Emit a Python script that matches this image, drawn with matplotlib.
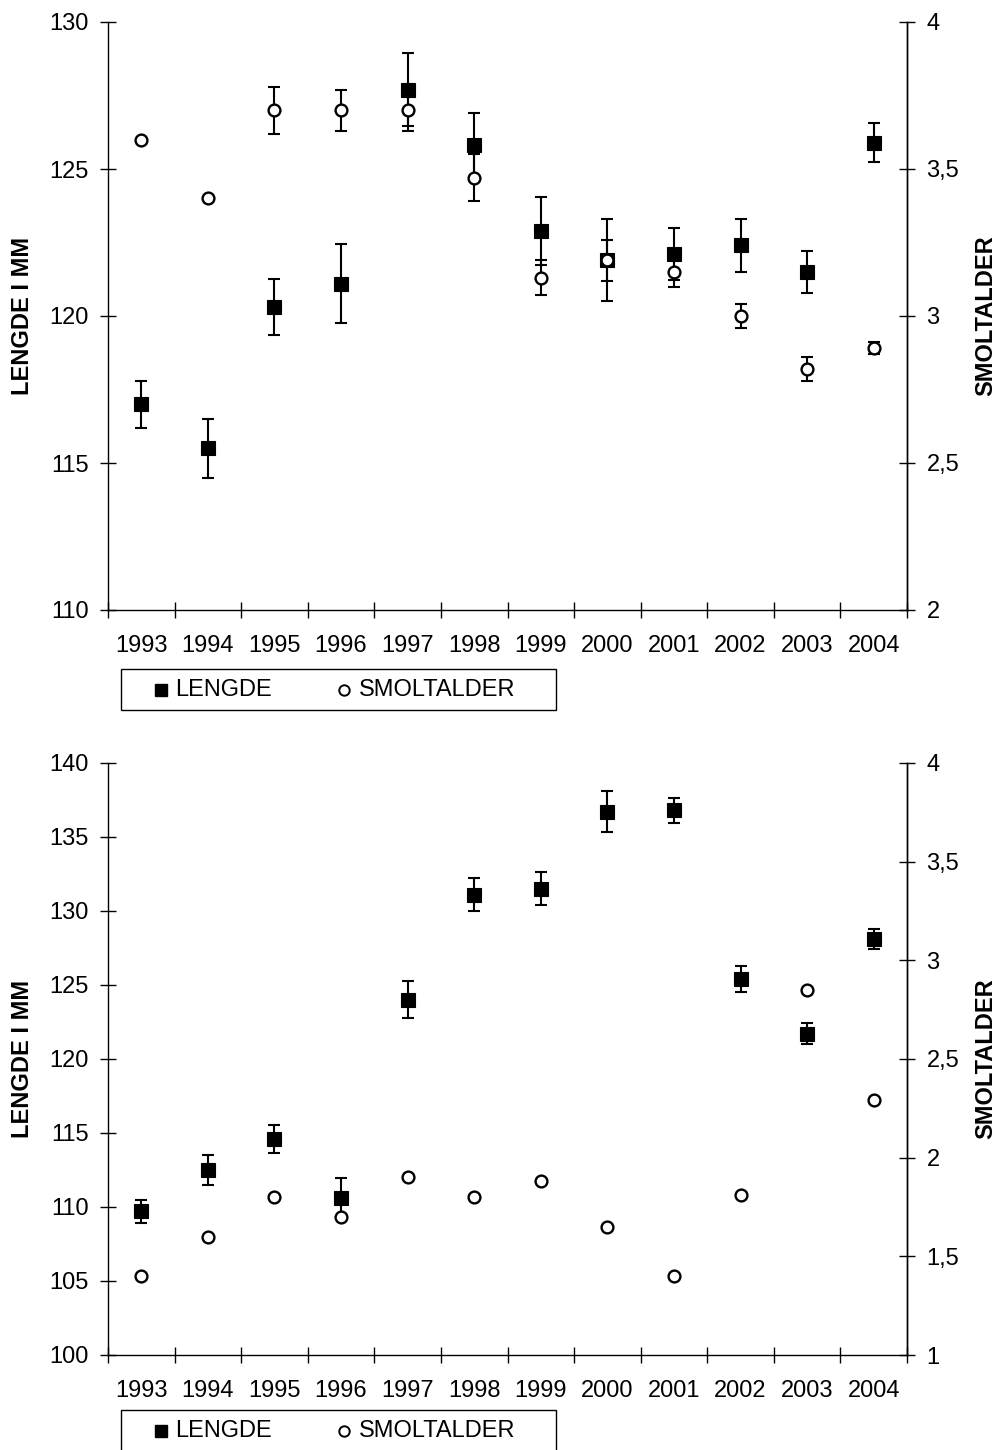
import matplotlib.pyplot as plt
from matplotlib.lines import Line2D
from matplotlib.patches import Rectangle
import numpy as np

plt.rcParams["font.family"] = ["Liberation Sans", "DejaVu Sans"]

YEARS = ["1993", "1994", "1995", "1996", "1997", "1998",
         "1999", "2000", "2001", "2002", "2003", "2004"]

# upper panel
LENGDE_1 = [117.0, 115.5, 120.3, 121.1, 127.7, 125.8, 122.9, 121.9, 122.1, 122.4, 121.5, 125.9]
LENGDE_1_ERR = [0.8, 1.0, 0.95, 1.35, 1.25, 1.1, 1.15, 1.4, 0.88, 0.9, 0.71, 0.66]
SMOLT_1 = [3.60, 3.40, 3.70, 3.70, 3.70, 3.47, 3.13, 3.19, 3.15, 3.00, 2.82, 2.89]
SMOLT_1_ERR = [0, 0, 0.08, 0.07, 0.07, 0.08, 0.06, 0.07, 0.05, 0.04, 0.04, 0.02]

# lower panel
LENGDE_2 = [109.7, 112.5, 114.6, 110.6, 124.0, 131.1, 131.5, 136.7, 136.8, 125.4, 121.7, 128.1]
LENGDE_2_ERR = [0.8, 1.0, 0.97, 1.33, 1.24, 1.1, 1.12, 1.39, 0.85, 0.89, 0.71, 0.66]
SMOLT_2 = [1.40, 1.60, 1.80, 1.70, 1.90, 1.80, 1.88, 1.65, 1.40, 1.81, 2.85, 2.29]
SMOLT_2_ERR = [0] * 12

W, H = 997, 1450
FS = 17
SQ = dict(marker="s", ms=10, mfc="black", mec="black", mew=0.8, ls="none")
CI = dict(marker="o", ms=8.5, mfc="white", mec="black", mew=1.7, ls="none")
EB = dict(fmt="none", ecolor="black", elinewidth=1.5, capsize=4.5, capthick=1.5)


def fmt_num(v):
    return ("%g" % v).replace(".", ",")


def px(x, y):
    # pixel position (from top-left) -> figure fraction
    return x / W, 1 - y / H


def add_legend(fig, top):
    x0, y0 = px(121, top + 41)
    fig.patches.append(Rectangle((x0, y0), 435 / W, 41 / H, transform=fig.transFigure,
                                 fill=False, ec="black", lw=1))
    yc = top + 21
    fig.add_artist(Line2D([px(161, yc)[0]], [px(161, yc)[1]], transform=fig.transFigure,
                          marker="s", ms=9, mfc="black", mec="black", ls="none"))
    fig.text(*px(175, yc), "LENGDE", fontsize=FS, va="center", ha="left")
    fig.add_artist(Line2D([px(344, yc)[0]], [px(344, yc)[1]], transform=fig.transFigure,
                          marker="o", ms=7.5, mfc="white", mec="black", mew=1.4, ls="none"))
    fig.text(*px(359, yc), "SMOLTALDER", fontsize=FS, va="center", ha="left")


def draw_panel(ax, length, length_err, smolt, smolt_err, lticks, rticks):
    x = np.arange(len(YEARS))
    ax2 = ax.twinx()

    ax.errorbar(x, length, yerr=length_err, zorder=2, **EB)
    ax.plot(x, length, zorder=3, **SQ)

    serr = np.array(smolt_err)
    has = serr > 0
    if has.any():
        ax2.errorbar(x[has], np.array(smolt)[has], yerr=serr[has], zorder=2, **EB)
    ax2.plot(x, smolt, zorder=3, **CI)

    ax.set_xlim(-0.5, len(YEARS) - 0.5)
    ax.set_ylim(lticks[0], lticks[-1])
    ax2.set_ylim(rticks[0], rticks[-1])

    ax.set_xticks(x, YEARS)
    ax.set_xticks(np.arange(-0.5, len(YEARS)), minor=True)
    ax.tick_params(axis="x", which="major", length=0, labelsize=FS, pad=18)
    ax.tick_params(axis="x", which="minor", direction="inout", length=11, width=1)

    ax.set_yticks(lticks, [fmt_num(v) for v in lticks])
    ax.tick_params(axis="y", direction="inout", length=11, width=1, labelsize=FS, pad=8.5)
    ax2.set_yticks(rticks, [fmt_num(v) for v in rticks])
    ax2.tick_params(axis="y", direction="inout", length=11, width=1, labelsize=FS, pad=8.5)

    for a in (ax, ax2):
        a.spines["top"].set_visible(False)
        for s in a.spines.values():
            s.set_linewidth(1)
    ax2.spines["left"].set_visible(False)
    ax2.spines["bottom"].set_visible(False)

    ax.set_ylabel("LENGDE I MM", fontsize=FS, fontweight="bold", labelpad=11)
    ax2.set_ylabel("SMOLTALDER", fontsize=FS, fontweight="bold", labelpad=11)


fig = plt.figure(figsize=(W / 100, H / 100), dpi=100)
ax_top = fig.add_axes([108 / W, 1 - 610 / H, 799 / W, 588 / H])
ax_bot = fig.add_axes([108 / W, 1 - 1355 / H, 799 / W, 592 / H])

draw_panel(ax_top, LENGDE_1, LENGDE_1_ERR, SMOLT_1, SMOLT_1_ERR,
           [110, 115, 120, 125, 130], [2, 2.5, 3, 3.5, 4])
draw_panel(ax_bot, LENGDE_2, LENGDE_2_ERR, SMOLT_2, SMOLT_2_ERR,
           [100, 105, 110, 115, 120, 125, 130, 135, 140],
           [1, 1.5, 2, 2.5, 3, 3.5, 4])

add_legend(fig, 669)
add_legend(fig, 1410)

fig.savefig("out.png", dpi=100)
